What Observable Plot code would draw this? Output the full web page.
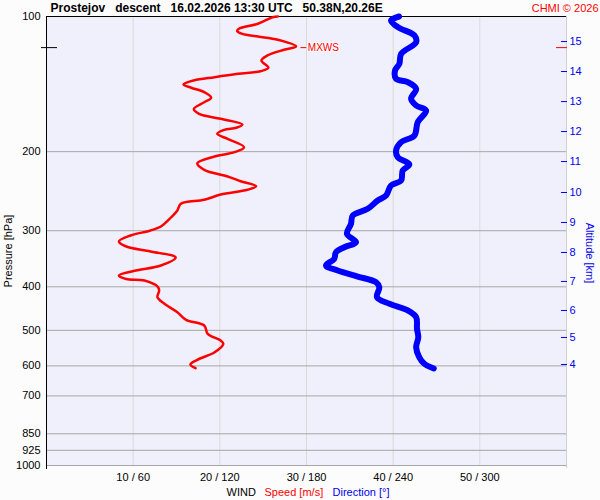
<!DOCTYPE html>
<html><head><meta charset="utf-8">
<script src="https://cdn.jsdelivr.net/npm/d3@7"></script>
<script src="https://cdn.jsdelivr.net/npm/@observablehq/plot@0.6"></script>
<style>body{margin:0;background:#fcfcfc}</style>
</head><body><div id="chart"></div>
<script>
// Wind speed profile (m/s) vs pressure (hPa)
const speedP = [100,100.4,103.8,106.5,107.8,109.3,110.8,112.7,116.6,118.6,122.1,125.3,130.1,132.4,134.2,136.5,138.8,141.7,144.1,147.4,151.7,155.2,160.6,164.7,169.0,174.0,176.9,178.8,182.5,187.3,195.5,200.5,205.0,212.2,219.5,227.2,232.7,238.8,243.2,249.2,256.0,261.3,270.4,279.9,293.6,299.7,307.4,317.0,325.3,333.7,344.1,358.5,367.9,377.4,384.2,387.2,399.3,407.6,421.9,436.4,455.6,473.7,487.8,509.0,526.8,535.8,559.4,581.6,595.8,607.2];
const speed = [26.7,26.1,24.4,22.2,22.0,22.6,24.4,26.7,28.8,27.4,25.5,24.8,25.6,24.7,22.1,19.4,17.0,15.8,16.7,18.2,19.0,18.2,17.0,17.6,20.1,22.6,21.9,20.5,19.7,20.9,22.8,21.7,19.4,17.4,18.2,20.9,22.4,24.2,23.2,20.1,18.2,15.5,15.1,14.4,13.2,12.0,9.7,8.35,9.2,12.0,14.9,13.2,10.3,8.35,9.2,11.3,12.8,13.0,12.8,13.6,15.1,16.1,18.2,18.6,20.1,20.4,19.4,17.4,16.6,17.2];
// Wind direction profile (deg) vs pressure (hPa)
const dirP = [100,102.1,105.6,110.2,114.1,121.1,127.4,131.9,137.6,140.0,144.9,152.5,157.8,162.0,172.0,184.1,190.5,198.9,205.8,213.6,220.3,231.9,237.9,250.4,256.9,268.1,277.5,289.6,304.8,318.2,326.5,335.0,346.4,358.5,367.9,379.4,390.6,400.8,421.9,436.4,451.6,467.4,496.3,518.1,545.3,574.1,593.6,608.0];
const dir = [244.1,238.5,243.2,254.7,255.9,245.5,244.3,241.3,242.0,250.1,255.9,252.4,255.9,262.8,257.0,254.7,245.5,242.0,243.2,251.2,246.6,245.5,238.5,235.1,229.3,222.4,212.0,210.8,208.0,214.3,206.2,200.4,199.2,193.5,201.6,215.5,228.1,230.4,228.8,237.4,250.1,255.9,256.5,257.4,255.9,258.1,261.6,268.1];
// Axis ticks
const pLevels = [100,200,300,400,500,600,700,850,925,1000];
const speedTicks = [10,20,30,40,50];
const altKm = [4,5,6,7,8,9,10,11,12,13,14,15];
const altP = [595.7,518.7,451.6,389.1,335.4,287.6,246.6,210.4,180.4,154.7,132.6,113.7];
// Max wind marker
const mxwsP = [117.3];
const mxwsSpeed = [29.0];
// Texts
const titleText = "Prostejov\u00a0\u00a0\u00a0descent\u00a0\u00a0\u00a016.02.2026 13:30 UTC\u00a0\u00a0\u00a050.38N,20.26E";
const creditText = "CHMI © 2026";

const rows = speedP.map((p, i) => ({p, v: speed[i]}));
const drows = dirP.map((p, i) => ({p, v: dir[i] / 6}));
const mx = mxwsP.map((p, i) => ({p, v: mxwsSpeed[i]}));
const kmByP = new Map(altP.map((p, i) => [p, altKm[i]]));
const font = "Liberation Sans, Arial, sans-serif";
const dash = {draw(context, l) { context.moveTo(0, 0); context.lineTo(0, -l); }};

const chart = Plot.plot({
  width: 600, height: 500,
  marginLeft: 46, marginRight: 34, marginTop: 16, marginBottom: 35,
  x: {domain: [0, 60], axis: null},
  y: {type: "log", domain: [100, 1000], reverse: true, axis: null},
  style: {background: "#fcfcfc", color: "black", fontFamily: font, fontSize: "11px", overflow: "visible"},
  marks: [
    Plot.frame({fill: "#f0f0fd", stroke: null}),
    Plot.ruleX(speedTicks, {stroke: "#dadada"}),
    Plot.ruleY(pLevels.slice(1), {stroke: "#a6a6a6"}),
    Plot.ruleX([60], {stroke: "#d0d0d0", insetBottom: -3}),
    Plot.ruleY([100], {stroke: "black"}),
    Plot.ruleX([0], {stroke: "black", insetBottom: -4}),
    Plot.axisY(pLevels, {anchor: "left", tickSize: 0, tickPadding: 6, tickFormat: d => String(d), label: null, fontSize: 11}),
    Plot.axisX(speedTicks, {anchor: "bottom", tickSize: 0, tickPadding: 8, tickFormat: d => `${d} / ${d * 6}`, label: null, fontSize: 11}),
    Plot.axisY(altP, {anchor: "right", tickSize: -6, tickPadding: 9, color: "#0000ee", tickFormat: d => String(kmByP.get(d)), label: null, fontSize: 11}),
    Plot.axisY(mxwsP, {anchor: "left", tickSize: 5, tickFormat: () => "", label: null}),
    Plot.axisY(mxwsP, {anchor: "left", tickSize: -11, tickFormat: () => "", label: null}),
    Plot.axisY(mxwsP, {anchor: "right", tickSize: -11, stroke: "red", tickFormat: () => "", label: null}),
    Plot.line(rows, {x: "v", y: "p", stroke: "#ff0000", strokeWidth: 2.5, curve: "catmull-rom"}),
    Plot.line(drows, {x: "v", y: "p", stroke: "#0000ff", strokeWidth: 6, curve: "catmull-rom", strokeLinecap: "round", strokeLinejoin: "round"}),
    Plot.vector(mx, {x: "v", y: "p", rotate: 90, length: 5, anchor: "start", shape: dash, dx: 3, stroke: "red", strokeWidth: 1}),
    Plot.text(mx, {x: "v", y: "p", text: () => "MXWS", dx: 10, textAnchor: "start", fill: "red", fontSize: 10, stroke: "#fafafe", strokeWidth: 2}),
    Plot.text([titleText], {frameAnchor: "top-left", dx: 4, dy: -8, textAnchor: "start", lineAnchor: "middle", fontWeight: "bold", fontSize: 12}),
    Plot.text([creditText], {frameAnchor: "top-right", dx: 32, dy: -8, textAnchor: "end", lineAnchor: "middle", fill: "red", fontSize: 11}),
    Plot.text(["Pressure [hPa]"], {frameAnchor: "left", rotate: -90, dx: -38, dy: 10, textAnchor: "middle", lineAnchor: "middle", fontSize: 11}),
    Plot.text(["Altitude [km]"], {frameAnchor: "right", rotate: 90, dx: 23, dy: 12, textAnchor: "middle", lineAnchor: "middle", fill: "#0000ee", fontSize: 11}),
    Plot.text(["WIND"], {frameAnchor: "bottom-left", dx: 180, dy: 27, textAnchor: "start", lineAnchor: "middle", fontSize: 11}),
    Plot.text(["Speed [m/s]"], {frameAnchor: "bottom-left", dx: 218, dy: 27, textAnchor: "start", lineAnchor: "middle", fill: "red", fontSize: 11}),
    Plot.text(["Direction [°]"], {frameAnchor: "bottom-left", dx: 286, dy: 27, textAnchor: "start", lineAnchor: "middle", fill: "#0000ee", fontSize: 11})
  ]
});
document.getElementById("chart").append(chart);
</script>
</body></html>
